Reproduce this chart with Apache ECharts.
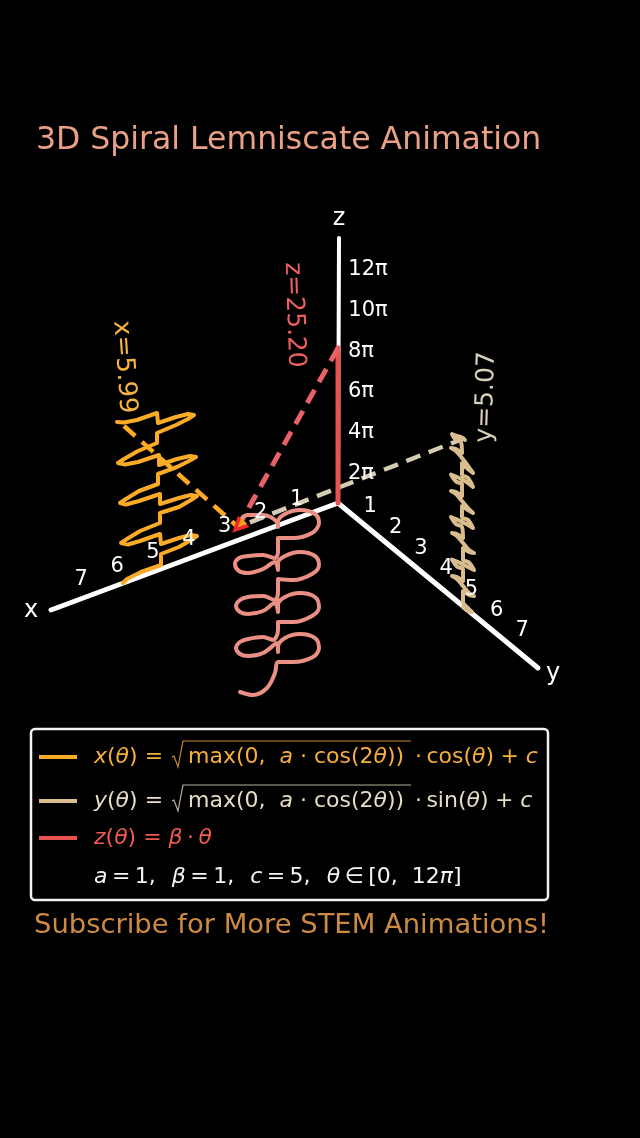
<!DOCTYPE html>
<html>
<head>
<meta charset="utf-8">
<title>3D Spiral Lemniscate Animation</title>
<script src="https://cdn.jsdelivr.net/npm/echarts@6/dist/echarts.min.js"></script>
<style>
  html, body { margin: 0; padding: 0; background: #000; }
  #chart { width: 640px; height: 1138px; }
</style>
</head>
<body>
<div id="chart"></div>
<script>
// values, plane coordinates of the drawing
const xTicks = [1, 2, 3, 4, 5, 6, 7];
const yTicks = [1, 2, 3, 4, 5, 6, 7];
const zTicks = [2, 4, 6, 8, 10, 12];

const xNow = 5.99;
const yNow = 5.07;
const zNow = 25.20;

const origin = [338, 503];
const xAxisEnd = [51, 610];
const yAxisEnd = [538, 668];
const zAxisEnd = [339, 238];
const zNowOnAxis = [338, 348];
const yNowDash = [465, 438];
const xNowDash = [124, 426];
const pointNow = [238, 527];

// x(θ) seen on the x-z wall
const xCurve = [
  [123, 583], [127, 579], [141, 572], [161, 565], [161, 554], [179, 547], [191, 540], [197, 536],
  [191, 535], [179, 538], [161, 544], [160, 534], [140, 541], [128, 544.5], [121, 543],
  [127, 539], [140, 531], [160, 523], [160, 513], [179, 507], [191, 500], [197, 496],
  [191, 495], [179, 498], [160, 504], [160, 494], [139, 501], [126, 504.5], [120, 503],
  [126, 499], [139, 491], [158, 484], [158, 474], [177, 467], [190, 460.5], [196, 457],
  [190, 456], [177, 459], [159, 465], [159, 455], [138, 462], [125, 464.5], [118, 463],
  [124, 459], [138, 451], [157, 443], [157, 433], [176, 425], [188, 419], [194, 415],
  [188, 414], [176, 417], [158, 423], [157, 413], [137, 420], [124, 422.5], [117, 422]
];

// y(θ) seen on the y-z wall
const yCurve = [
  [463, 607], [468, 611], [472, 612], [468, 608], [463, 602],
  [463, 591], [469, 595], [474, 596], [469, 593], [463, 586], [457, 579], [452, 576], [457, 577], [463, 581],
  [463, 569.5], [457, 566.5], [452, 559.5], [457, 561.5], [463, 564.5], [469, 567.5], [474, 570], [469, 562.5], [463, 559.5],
  [463, 548], [469, 552], [474, 553], [469, 550], [463, 543], [457, 536], [452, 533], [457, 534], [463, 538],
  [462, 527], [456, 524], [451, 517], [456, 519], [462, 522], [468, 525], [473, 528], [468, 520], [462, 517],
  [462, 506], [468, 510], [473, 513], [468, 508], [462, 501], [456, 494], [451, 491], [456, 492], [462, 496],
  [462, 484.5], [456, 481.5], [451, 474.5], [456, 476.5], [462, 479.5], [468, 483], [473, 487], [468, 478], [462, 474.5],
  [462, 463], [468, 469], [473, 473], [468, 466], [462, 458], [456, 451], [451, 448], [456, 449], [462, 453],
  [461, 442], [455, 439], [452, 434], [457, 436], [461, 437], [465, 440]
];

// the spiral itself
const spiralCurve = [
  [240, 692], [253, 695], [267, 688], [275, 673], [278, 662],
  [293, 662], [313, 657], [319, 648], [315, 638], [300, 634], [285, 638], [278, 647], [278, 652],
  [277, 643], [263, 653], [248, 656], [240, 654], [236, 648], [240, 642], [248, 639], [263, 637], [273, 640],
  [278, 630], [278, 622],
  [293, 622], [312, 616], [319, 607], [315, 597], [300, 593], [285, 597], [278, 605], [278, 612],
  [275, 603], [263, 611], [248, 614], [240, 612], [236, 606], [240, 600], [248, 597], [263, 596], [275, 600],
  [278, 592], [278, 579],
  [293, 580], [312, 574], [319, 565], [315, 556], [300, 552], [285, 556], [278, 563], [278, 570],
  [275, 562], [263, 569], [248, 573], [239, 571], [235, 564], [239, 558], [248, 556], [263, 555], [275, 558],
  [278, 552], [278, 538],
  [293, 538], [312, 533], [319, 523], [315, 514], [300, 510], [285, 514], [278, 522], [278, 527],
  [277, 522], [263, 515], [247, 515], [238, 524]
];

const ORANGE = '#fbab26';
const TAN = '#d9bd8f';
const RED = '#e8524f';
const PINK = '#ea8f84';
const FONT = 'DejaVu Sans';

function lineSeries(data, color, width, extra) {
  return Object.assign({
    type: 'line',
    data: data,
    showSymbol: false,
    silent: true,
    animation: false,
    lineStyle: { color: color, width: width, cap: 'round', join: 'round' }
  }, extra || {});
}

function dashSeries(data, color, width) {
  return {
    type: 'line',
    data: data,
    showSymbol: false,
    silent: true,
    animation: false,
    lineStyle: { color: color, width: width, type: [15, 9] }
  };
}

function labelSeries(items, color, size, rotate) {
  return {
    type: 'scatter',
    symbolSize: 0,
    silent: true,
    animation: false,
    z: 6,
    itemStyle: { opacity: 1 },
    data: items.map(it => ({ value: it.pos, label: { formatter: it.text } })),
    label: {
      show: true,
      position: 'inside',
      color: color,
      opacity: 1,
      fontFamily: FONT,
      fontSize: size,
      rotate: rotate || 0,
      align: 'center',
      verticalAlign: 'middle'
    }
  };
}

const xTickLabels = xTicks.map(t => ({ text: String(t), pos: [332.5 - 35.9 * t, 486 + 13.4 * t] }));
const yTickLabels = yTicks.map(t => ({ text: String(t), pos: [345 + 25.3 * t, 486 + 20.7 * t] }));
const zTickLabels = zTicks.map(t => ({ text: t + 'π', pos: [348 + (t > 9 ? 20 : 13), 514 - 20.35 * t] }));

const N = { fontFamily: FONT, fontSize: 22 };
const I = { fontFamily: FONT, fontSize: 22, fontStyle: 'italic' };

function mathText(x, y, text, color) {
  return {
    type: 'text',
    x: x,
    y: y,
    silent: true,
    style: {
      text: text,
      fill: color,
      font: '22px "DejaVu Sans"',
      verticalAlign: 'middle',
      rich: { n: N, i: I }
    }
  };
}

function radical(y, color) {
  return {
    type: 'polyline',
    silent: true,
    shape: { points: [[172, y], [174, y - 1], [178, y + 10], [183, y - 16], [411, y - 16]] },
    style: { stroke: color, fill: null, lineWidth: 1.2, opacity: 0.8 }
  };
}

function legendLine(y, color) {
  return {
    type: 'line',
    silent: true,
    shape: { x1: 39, y1: y, x2: 77, y2: y },
    style: { stroke: color, lineWidth: 4 }
  };
}

const XTEXT = '#f8ae3b';
const YTEXT = '#e6dcc3';
const ZTEXT = '#ee5c50';
const TS = '\u2009';
const HS = '\u200a';
const PLUS = TS + HS + '+' + TS + HS;

const option = {
  backgroundColor: '#000',
  animation: false,
  title: {
    text: '3D Spiral Lemniscate Animation',
    left: 31,
    top: 120,
    textStyle: { color: '#e9a084', fontFamily: FONT, fontSize: 31.5, fontWeight: 'normal' }
  },
  grid: { left: 0, top: 0, right: 0, bottom: 0 },
  xAxis: { type: 'value', min: 0, max: 640, show: false },
  yAxis: { type: 'value', min: 0, max: 1138, inverse: true, show: false },
  series: [
    dashSeries([yNowDash, pointNow], '#d6ccb4', 4.5),
    lineSeries([origin, xAxisEnd], '#fff', 5),
    lineSeries([origin, yAxisEnd], '#fff', 5),
    lineSeries([origin, zAxisEnd], '#fff', 4),
    lineSeries([origin, zNowOnAxis], RED, 5),
    dashSeries([zNowOnAxis, pointNow], '#e8606a', 5),
    dashSeries([xNowDash, pointNow], ORANGE, 4.5),
    lineSeries(xCurve, ORANGE, 4),
    lineSeries(yCurve, TAN, 4, { smooth: 0.35 }),
    lineSeries(spiralCurve, PINK, 4, { smooth: 0.35 }),
    {
      type: 'scatter',
      silent: true,
      animation: false,
      symbol: 'triangle',
      symbolSize: 16,
      symbolRotate: 135,
      itemStyle: { color: '#f0262a', opacity: 1 },
      z: 4,
      data: [pointNow]
    },
    {
      type: 'scatter',
      silent: true,
      animation: false,
      symbol: 'triangle',
      symbolSize: 9,
      symbolRotate: 135,
      itemStyle: { color: '#fb9a22', opacity: 1 },
      z: 4,
      data: [[pointNow[0] + 3, pointNow[1] - 3]]
    },
    labelSeries(xTickLabels, '#fff', 21),
    labelSeries(yTickLabels, '#fff', 21),
    labelSeries(zTickLabels, '#fff', 21),
    labelSeries([{ text: 'x', pos: [31, 611] }], '#fff', 24),
    labelSeries([{ text: 'y', pos: [553, 674] }], '#fff', 24),
    labelSeries([{ text: 'z', pos: [339, 219] }], '#fff', 24),
    labelSeries([{ text: 'x=' + xNow.toFixed(2), pos: [124, 367] }], '#f8b33f', 25.5, -86),
    labelSeries([{ text: 'z=' + zNow.toFixed(2), pos: [294, 315] }], '#ec5f63', 25, -88),
    labelSeries([{ text: 'y=' + yNow.toFixed(2), pos: [486, 397] }], '#d8d0bb', 25, 88)
  ],
  graphic: [
    {
      type: 'rect',
      silent: true,
      shape: { x: 31, y: 729, width: 517, height: 171, r: 4 },
      style: { fill: '#000', stroke: '#f2f2f2', lineWidth: 2.5 },
      z: -1
    },
    legendLine(757, ORANGE),
    legendLine(801, TAN),
    legendLine(838, RED),
    mathText(94, 757, '{i|x}{n|(}{i|θ}{n|) = }', XTEXT),
    radical(757, XTEXT),
    mathText(188, 757, '{n|max(0,  }{i|a}{n| · cos(2}{i|θ}{n|))}', XTEXT),
    mathText(415, 757, '{n|·' + TS + 'cos(}{i|θ}{n|)' + PLUS + '}{i|c}', XTEXT),
    mathText(94, 801, '{i|y}{n|(}{i|θ}{n|) = }', YTEXT),
    radical(801, YTEXT),
    mathText(188, 801, '{n|max(0,  }{i|a}{n| · cos(2}{i|θ}{n|))}', YTEXT),
    mathText(415, 801, '{n|·' + TS + 'sin(}{i|θ}{n|)' + PLUS + '}{i|c}', YTEXT),
    mathText(94, 838, '{i|z}{n|(}{i|θ}{n|) = }{i|β}{n|' + TS + '·' + TS + '}{i|θ}', ZTEXT),
    mathText(94, 877, '{i|a}{n|' + TS + '=' + TS + '1,  ' + HS + '}{i|β}{n|' + TS + '=' + TS + '1,  ' + HS + '}{i|c}{n|' + TS + '=' + TS + '5,  ' + HS + '}{i|θ}{n|' + TS + '∈' + TS + '[0,  12}{i|π}{n|]}', '#f4f4f4'),
    {
      type: 'text',
      x: 34,
      y: 926,
      silent: true,
      style: {
        text: 'Subscribe for More STEM Animations!',
        fill: '#cd8a45',
        font: '27.4px "DejaVu Sans"',
        verticalAlign: 'middle'
      }
    }
  ]
};

const chart = echarts.init(document.getElementById('chart'));
chart.setOption(option);
</script>
</body>
</html>
